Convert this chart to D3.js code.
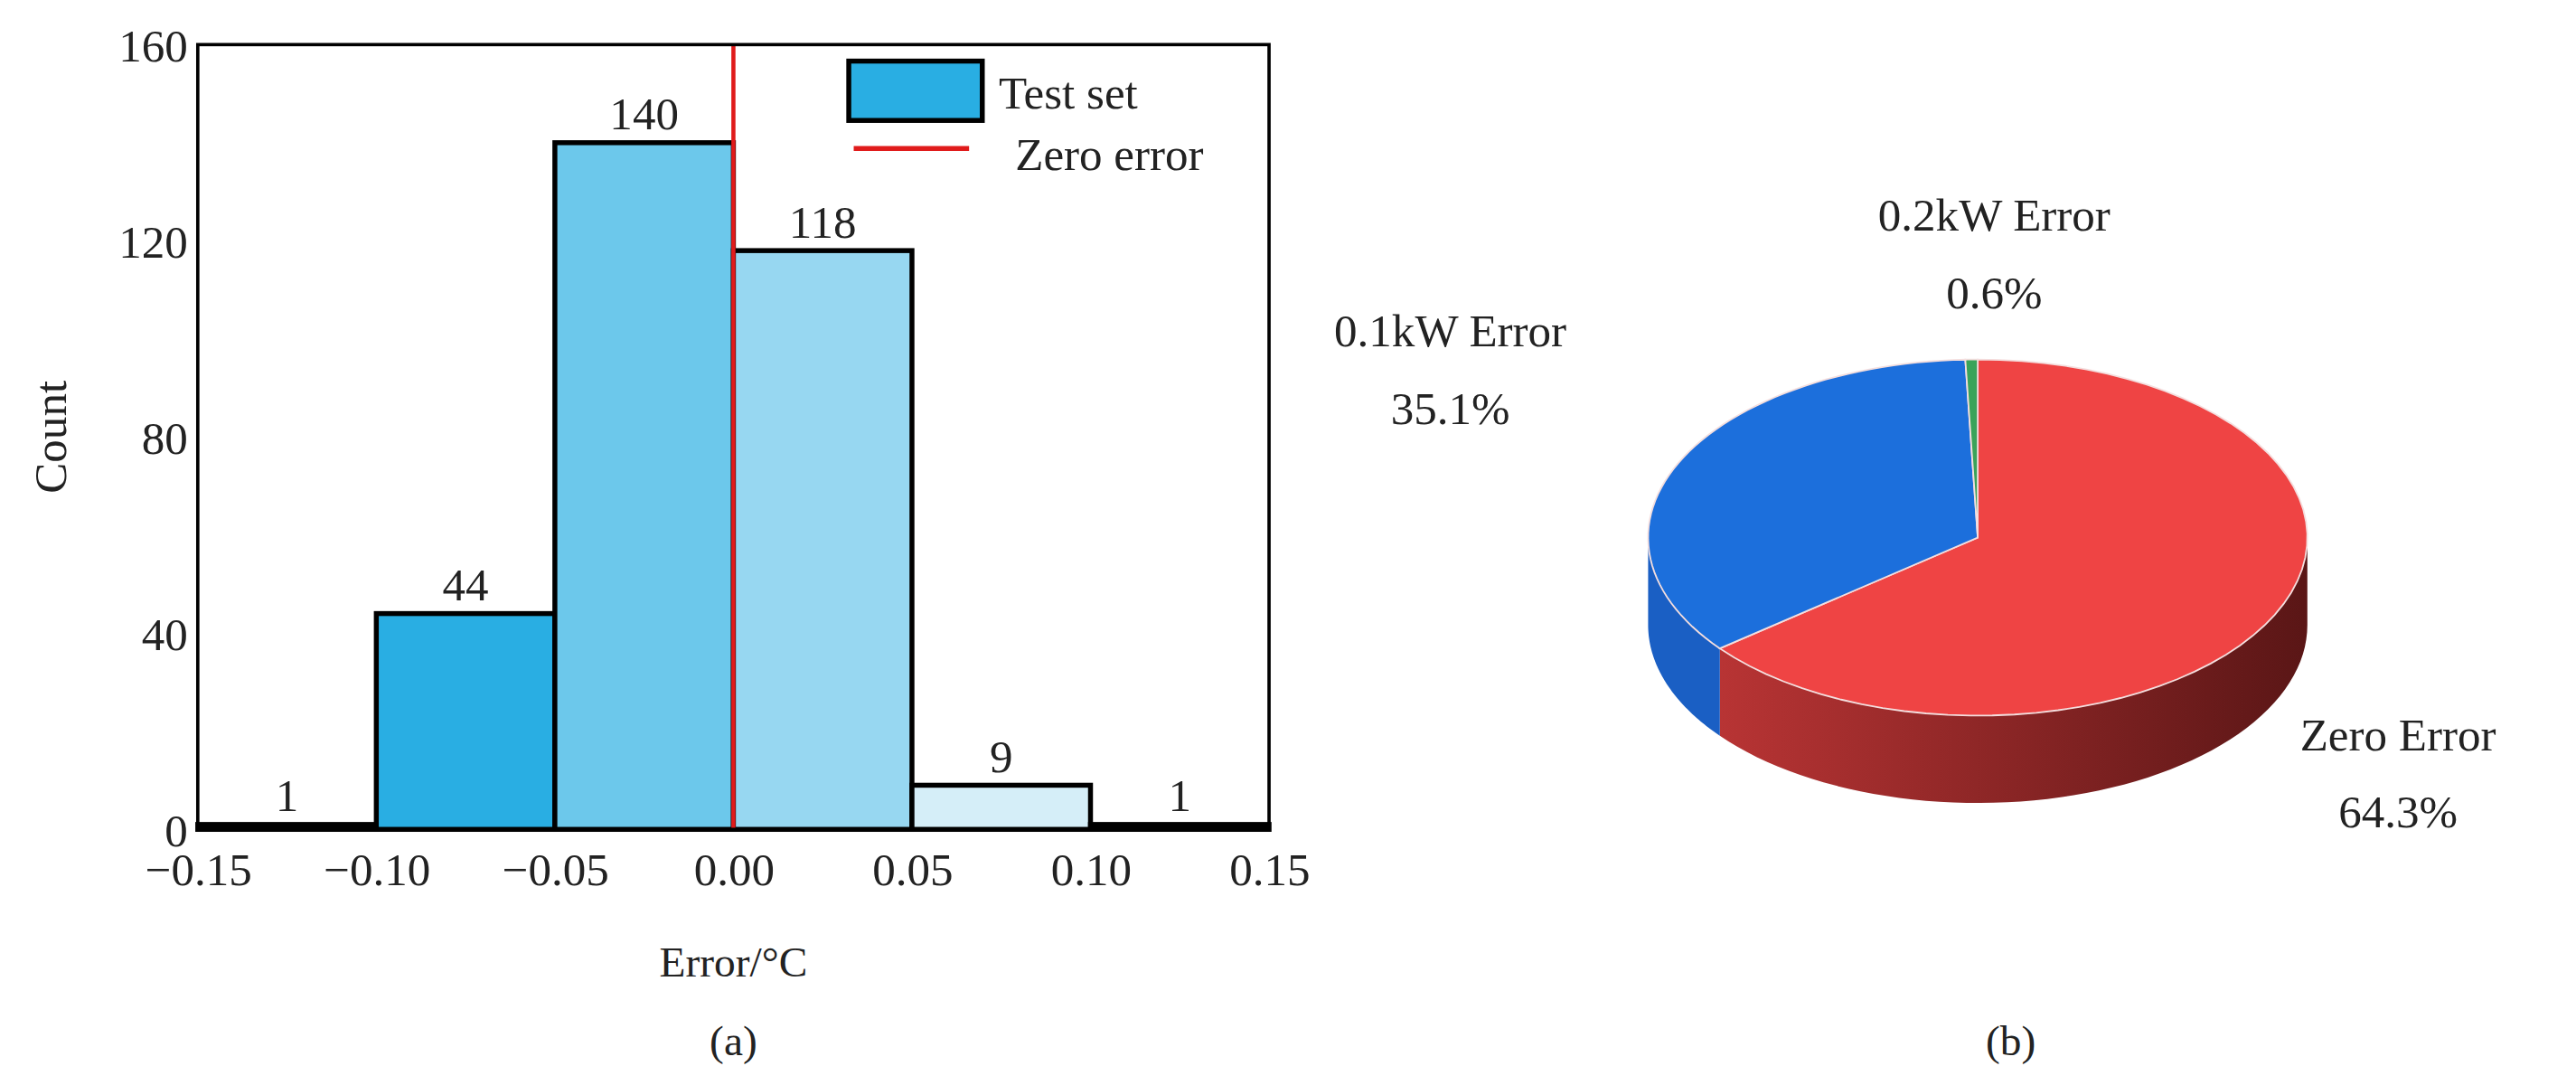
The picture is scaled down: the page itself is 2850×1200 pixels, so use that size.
<!DOCTYPE html>
<html><head><meta charset="utf-8">
<script src="https://cdn.jsdelivr.net/npm/d3@7"></script>
<style>body{margin:0;background:#fff}text{font-family:"Liberation Serif","DejaVu Serif",serif;fill:#222}</style>
</head><body><svg width="2850" height="1200" viewBox="0 0 1563 658"></svg>
<script>
// histogram data
const binStarts = [-0.15, -0.10, -0.05, 0.00, 0.05, 0.10];
const binWidth = 0.05;
const counts = [1, 44, 140, 118, 9, 1];
const binColors = ["#d5eef8", "#29aee3", "#6cc8eb", "#97d7f1", "#d5eef8", "#d5eef8"];
const xTicks = [-0.15, -0.10, -0.05, 0.00, 0.05, 0.10, 0.15];
const yTicks = [0, 40, 80, 120, 160];

// pie data
const pieLabels = ["Zero Error", "0.1kW Error", "0.2kW Error"];
const pieValues = [64.3, 35.1, 0.6];
const pieColors = ["#ef4444", "#1c6fdc", "#3aa35a"];
const sideColors = ["url(#redSide)", "#1a5fc4", "#2e8a4a"];

const svg = d3.select("svg");
const defs = svg.append("defs");
const g1 = defs.append("linearGradient").attr("id", "redSide");
g1.append("stop").attr("offset", "0%").attr("stop-color", "#b83434");
g1.append("stop").attr("offset", "100%").attr("stop-color", "#5a1616");

// ---- panel (a)
const pLeft = 120, pRight = 770, pTop = 27, pBottom = 503;
const x = d3.scaleLinear().domain([-0.15, 0.15]).range([pLeft, pRight]);
const y = d3.scaleLinear().domain([0, 160]).range([pBottom, pTop]);

svg.selectAll("rect.bar").data(counts).enter().append("rect")
  .attr("class", "bar")
  .attr("x", (d, i) => x(binStarts[i]))
  .attr("y", d => y(d))
  .attr("width", (d, i) => x(binStarts[i] + binWidth) - x(binStarts[i]))
  .attr("height", d => y(0) - y(d))
  .attr("fill", (d, i) => binColors[i])
  .attr("stroke", "#000").attr("stroke-width", 3);

svg.selectAll("text.cnt").data(counts).enter().append("text")
  .attr("x", (d, i) => x(binStarts[i] + binWidth / 2))
  .attr("y", d => y(d) - 8)
  .attr("text-anchor", "middle").attr("font-size", 28).text(d => d);

svg.append("line").attr("x1", x(0)).attr("x2", x(0)).attr("y1", pTop).attr("y2", pBottom)
  .attr("stroke", "#e01b1b").attr("stroke-width", 2.5);

svg.append("rect").attr("x", pLeft).attr("y", pTop).attr("width", pRight - pLeft).attr("height", pBottom - pTop)
  .attr("fill", "none").attr("stroke", "#000").attr("stroke-width", 2);

const xAxis = svg.append("g").attr("transform", `translate(0,${pBottom})`)
  .call(d3.axisBottom(x).tickValues(xTicks).tickSize(0).tickPadding(14)
    .tickFormat(d => d3.format(".2f")(d).replace("-", "\u2212")));
const yAxis = svg.append("g").attr("transform", `translate(${pLeft},0)`)
  .call(d3.axisLeft(y).tickValues(yTicks).tickSize(0).tickPadding(6));
[xAxis, yAxis].forEach(a => {
  a.select(".domain").remove();
  a.selectAll("text").attr("font-size", 28).attr("font-family", "Liberation Serif").attr("fill", "#222");
});
yAxis.selectAll("text").attr("dy", "0.35em");

svg.append("text").attr("x", x(0)).attr("y", 592).attr("text-anchor", "middle").attr("font-size", 26).text("Error/°C");
svg.append("text").attr("x", x(0)).attr("y", 640).attr("text-anchor", "middle").attr("font-size", 26).text("(a)");
svg.append("text").attr("transform", "translate(40,265) rotate(-90)").attr("text-anchor", "middle").attr("font-size", 28).text("Count");

// legend
svg.append("rect").attr("x", 515).attr("y", 37).attr("width", 81).attr("height", 36)
  .attr("fill", "#29aee3").attr("stroke", "#000").attr("stroke-width", 3);
svg.append("text").attr("x", 606).attr("y", 66).attr("font-size", 28).text("Test set");
svg.append("line").attr("x1", 518).attr("x2", 588).attr("y1", 90).attr("y2", 90).attr("stroke", "#e01b1b").attr("stroke-width", 3);
svg.append("text").attr("x", 616).attr("y", 103).attr("font-size", 28).text("Zero error");

// ---- panel (b): 3D pie
const cx = 1200, cy = 326, rx = 200, ry = 108, depth = 53;
const arcs = d3.pie().sort(null).value(d => d)(pieValues);
const pt = (t, dz = 0) => [cx + rx * Math.sin(t), cy - ry * Math.cos(t) + dz];
const arcPts = (a0, a1, dz) => d3.range(0, 61).map(k => pt(a0 + (a1 - a0) * k / 60, dz));
const line = d3.line();

// side walls (front half only)
arcs.forEach((a, i) => {
  const s = Math.max(a.startAngle, Math.PI / 2), e = Math.min(a.endAngle, 3 * Math.PI / 2);
  if (e <= s) return;
  const pts = arcPts(s, e, 0).concat(arcPts(e, s, depth));
  svg.append("path").attr("d", line(pts) + "Z").attr("fill", sideColors[i]);
});
// tops
arcs.forEach((a, i) => {
  const pts = [[cx, cy]].concat(arcPts(a.startAngle, a.endAngle, 0));
  svg.append("path").attr("d", line(pts) + "Z").attr("fill", pieColors[i])
    .attr("stroke", "#f4dede").attr("stroke-width", 1);
});

const pieLabelPos = [[1455, 455], [880, 210], [1210, 140]];
arcs.forEach((a, i) => {
  const [lx, ly] = pieLabelPos[i];
  svg.append("text").attr("x", lx).attr("y", ly).attr("text-anchor", "middle").attr("font-size", 28).text(pieLabels[i]);
  svg.append("text").attr("x", lx).attr("y", ly + 47).attr("text-anchor", "middle").attr("font-size", 28).text(pieValues[i] + "%");
});
svg.append("text").attr("x", 1220).attr("y", 640).attr("text-anchor", "middle").attr("font-size", 26).text("(b)");
</script></body></html>
